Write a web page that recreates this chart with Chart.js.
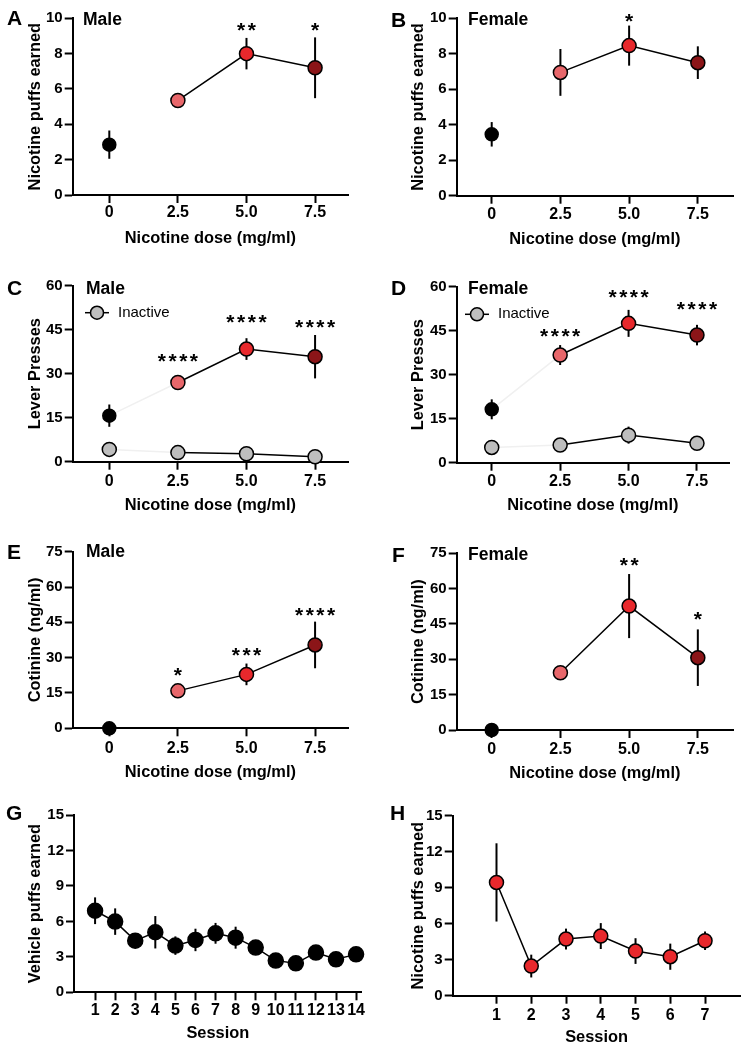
<!DOCTYPE html>
<html><head><meta charset="utf-8">
<script src="https://cdn.jsdelivr.net/npm/chart.js@4.4.1/dist/chart.umd.min.js"></script>
<style>
html,body{margin:0;padding:0;background:#fff;}
#wrap{position:relative;width:749px;height:1050px;overflow:hidden;font-family:"Liberation Sans",Arial,sans-serif;}
canvas{position:absolute;}
.lbl{position:absolute;line-height:1;font-weight:bold;white-space:nowrap;color:#000;font-family:"Liberation Sans",Arial,sans-serif;}
</style></head><body><div id="wrap"></div>
<script>
// ---------- data ----------
const doseX = [0, 2.5, 5, 7.5];
const doseTickLabels = ['0', '2.5', '5.0', '7.5'];
const doseColors = ['#000000', '#E8676B', '#E8282C', '#8B1518'];

const maleNicPuffs = [2.85, 5.35, 8.0, 7.2];
const maleNicPuffsSem = [0.8, 0.35, 0.89, 1.72];
const maleNicPuffsStars = ['', '', '**', '*'];
const maleNicPuffsStarY = [null, null, 9.5, 9.5];

const femaleNicPuffs = [3.46, 6.95, 8.46, 7.5];
const femaleNicPuffsSem = [0.69, 1.32, 1.13, 0.92];
const femaleNicPuffsStars = ['', '', '*', ''];
const femaleNicPuffsStarY = [null, null, 10.0, null];

const maleActive = [15.7, 27.0, 38.4, 35.8];
const maleActiveSem = [3.8, 1.5, 3.7, 7.4];
const maleInactive = [4.2, 3.1, 2.7, 1.7];
const maleInactiveSem = [0.8, 0.6, 0.6, 0.6];
const maleLeverStars = ['', '****', '****', '****'];
const maleLeverStarY = [null, 35.4, 48.6, 46.9];

const femaleActive = [18.2, 36.7, 47.5, 43.5];
const femaleActiveSem = [3.4, 3.4, 4.6, 3.5];
const femaleInactive = [5.2, 6.0, 9.4, 6.6];
const femaleInactiveSem = [0.8, 1.0, 2.9, 1.0];
const femaleLeverStars = ['', '****', '****', '****'];
const femaleLeverStarY = [null, 44.3, 57.5, 53.4];

const maleCotinine = [0, 15.9, 22.9, 35.4];
const maleCotinineSem = [0, 0.8, 4.6, 9.9];
const maleCotinineStars = ['', '*', '***', '****'];
const maleCotinineStarY = [null, 24.0, 32.4, 49.4];

const femaleCotinine = [0, 24.3, 52.6, 30.7];
const femaleCotinineSem = [0, 0.8, 13.6, 12.0];
const femaleCotinineStars = ['', '', '**', '*'];
const femaleCotinineStarY = [null, null, 71.4, 48.4];

const vehicleSessions = [1, 2, 3, 4, 5, 6, 7, 8, 9, 10, 11, 12, 13, 14];
const vehiclePuffs = [6.9, 5.98, 4.37, 5.08, 3.95, 4.43, 4.99, 4.62, 3.78, 2.68, 2.45, 3.36, 2.79, 3.21];
const vehiclePuffsSem = [1.13, 1.12, 0.3, 1.37, 0.78, 0.95, 0.88, 0.93, 0.3, 0.3, 0.3, 0.3, 0.3, 0.3];

const nicotineSessions = [1, 2, 3, 4, 5, 6, 7];
const nicotineSessionPuffs = [9.44, 2.47, 4.72, 4.97, 3.72, 3.25, 4.58];
const nicotineSessionSem = [3.26, 0.95, 0.87, 1.08, 1.07, 1.09, 0.77];

const inactiveColor = '#BEBEBE';
const redColor = '#E8282C';

// ---------- panel layout ----------
const FONT = '"Liberation Sans", Arial, sans-serif';
const doseRadius = [6.5, 7, 7, 7];

const panels = [
  {left:0, top:0, w:374, h:265, area:{l:72.7, r:348, t:18.3, b:195}, xRange:[-1.334, 8.70], yMax:10, yStep:2,
   yTitle:'Nicotine puffs earned', xTitle:'Nicotine dose (mg/ml)', yTitleCX:35.5, xTickCY:213, xTitleCY:238.3,
   xTicks:doseX, xLabels:doseTickLabels,
   series:[{x:doseX, y:maleNicPuffs, sem:maleNicPuffsSem, colors:doseColors, radius:doseRadius, firstSeg:'rgba(0,0,0,0)'}],
   stars:maleNicPuffsStars, starY:maleNicPuffsStarY},
  {left:375, top:0, w:374, h:265, area:{l:456.7, r:733, t:18.3, b:195.7}, xRange:[-1.274, 8.78], yMax:10, yStep:2,
   yTitle:'Nicotine puffs earned', xTitle:'Nicotine dose (mg/ml)', yTitleCX:418.3, xTickCY:215, xTitleCY:239.3,
   xTicks:doseX, xLabels:doseTickLabels,
   series:[{x:doseX, y:femaleNicPuffs, sem:femaleNicPuffsSem, colors:doseColors, radius:doseRadius, firstSeg:'rgba(0,0,0,0)'}],
   stars:femaleNicPuffsStars, starY:femaleNicPuffsStarY},
  {left:0, top:265, w:374, h:265, area:{l:72.7, r:348, t:285.7, b:461.7}, xRange:[-1.334, 8.70], yMax:60, yStep:15,
   yTitle:'Lever Presses', xTitle:'Nicotine dose (mg/ml)', yTitleCX:35.5, xTickCY:481.7, xTitleCY:505,
   xTicks:doseX, xLabels:doseTickLabels,
   series:[{x:doseX, y:maleInactive, sem:maleInactiveSem, colors:inactiveColor, radius:7, firstSeg:'#f0f0f0'},
           {x:doseX, y:maleActive, sem:maleActiveSem, colors:doseColors, radius:doseRadius, firstSeg:'#f0f0f0'}],
   stars:maleLeverStars, starY:maleLeverStarY, legend:{x:97, y:312.7, tx:118}},
  {left:375, top:265, w:374, h:265, area:{l:456.7, r:729, t:286.7, b:462.7}, xRange:[-1.28, 8.67], yMax:60, yStep:15,
   yTitle:'Lever Presses', xTitle:'Nicotine dose (mg/ml)', yTitleCX:418.3, xTickCY:481.7, xTitleCY:505,
   xTicks:doseX, xLabels:doseTickLabels,
   series:[{x:doseX, y:femaleInactive, sem:femaleInactiveSem, colors:inactiveColor, radius:7, firstSeg:'#f0f0f0'},
           {x:doseX, y:femaleActive, sem:femaleActiveSem, colors:doseColors, radius:doseRadius, firstSeg:'#f0f0f0'}],
   stars:femaleLeverStars, starY:femaleLeverStarY, legend:{x:477, y:314.3, tx:498}},
  {left:0, top:530, w:374, h:265, area:{l:72.7, r:348, t:551.7, b:728.3}, xRange:[-1.334, 8.70], yMax:75, yStep:15,
   yTitle:'Cotinine (ng/ml)', xTitle:'Nicotine dose (mg/ml)', yTitleCX:35.5, xTickCY:748.3, xTitleCY:772.3,
   xTicks:doseX, xLabels:doseTickLabels,
   series:[{x:doseX, y:maleCotinine, sem:maleCotinineSem, colors:doseColors, radius:doseRadius, firstSeg:'rgba(0,0,0,0)'}],
   stars:maleCotinineStars, starY:maleCotinineStarY},
  {left:375, top:530, w:374, h:265, area:{l:456.7, r:733, t:553.3, b:730}, xRange:[-1.274, 8.78], yMax:75, yStep:15,
   yTitle:'Cotinine (ng/ml)', xTitle:'Nicotine dose (mg/ml)', yTitleCX:418.7, xTickCY:750, xTitleCY:773.3,
   xTicks:doseX, xLabels:doseTickLabels,
   series:[{x:doseX, y:femaleCotinine, sem:femaleCotinineSem, colors:doseColors, radius:doseRadius, firstSeg:'rgba(0,0,0,0)'}],
   stars:femaleCotinineStars, starY:femaleCotinineStarY},
  {left:0, top:795, w:374, h:255, area:{l:74, r:361.7, t:815, b:992.3}, xRange:[-0.05, 14.28], yMax:15, yStep:3,
   yTitle:'Vehicle puffs earned', xTitle:'Session', yTitleCX:35.5, xTickCY:1010.7, xTitleCY:1033,
   xTicks:vehicleSessions, xLabels:vehicleSessions.map(String),
   series:[{x:vehicleSessions, y:vehiclePuffs, sem:vehiclePuffsSem, colors:'#000000', radius:7.5, firstSeg:null}]},
  {left:375, top:795, w:374, h:255, area:{l:452.7, r:741.7, t:815.7, b:995.7}, xRange:[-0.26, 8.02], yMax:15, yStep:3,
   yTitle:'Nicotine puffs earned', xTitle:'Session', yTitleCX:418.7, xTickCY:1016, xTitleCY:1037.3,
   xTicks:nicotineSessions, xLabels:nicotineSessions.map(String),
   series:[{x:nicotineSessions, y:nicotineSessionPuffs, sem:nicotineSessionSem, colors:redColor, radius:7, firstSeg:null}]}
];

const textLabels = [
  {t:'A', x:7, y:10, s:21}, {t:'Male', x:83, y:13, s:17.5},
  {t:'B', x:391, y:12, s:21}, {t:'Female', x:468, y:13, s:17.5},
  {t:'C', x:7, y:280, s:21}, {t:'Male', x:86, y:282, s:17.5},
  {t:'D', x:391, y:280, s:21}, {t:'Female', x:468, y:282, s:17.5},
  {t:'E', x:7, y:544, s:21}, {t:'Male', x:86, y:545, s:17.5},
  {t:'F', x:392, y:547, s:21}, {t:'Female', x:468, y:548, s:17.5},
  {t:'G', x:6, y:805, s:21},
  {t:'H', x:390, y:805, s:21}
];

// ---------- build ----------
const wrap = document.getElementById('wrap');
const TITLE_SIZE = 16.4, XTICK_SIZE = 16, YTICK_SIZE = 15, TICK_LEN = 8;

function makePlugin(P) {
  return {
    id: 'extras',
    beforeDatasetsDraw(chart) {
      const {ctx, scales: {x, y}} = chart;
      ctx.save();
      ctx.strokeStyle = '#000';
      ctx.lineWidth = 2;
      chart.data.datasets.forEach(ds => {
        ds.data.forEach((p, i) => {
          const s = ds.sem[i];
          if (!s) return;
          const px = x.getPixelForValue(p.x);
          ctx.beginPath();
          ctx.moveTo(px, y.getPixelForValue(p.y - s));
          ctx.lineTo(px, y.getPixelForValue(p.y + s));
          ctx.stroke();
        });
      });
      ctx.restore();
    },
    afterDraw(chart) {
      const {ctx, scales: {x, y}} = chart;
      const ox = P.left, oy = P.top;
      if (P.stars) {
        ctx.save();
        ctx.fillStyle = '#000';
        ctx.font = '700 21px ' + FONT;
        ctx.textAlign = 'center';
        ctx.textBaseline = 'alphabetic';
        const m = ctx.measureText('*');
        const pitch = 10.7;
        P.stars.forEach((st, i) => {
          if (!st) return;
          const cx = x.getPixelForValue(P.xTicks[i]);
          const cy = y.getPixelForValue(P.starY[i]);
          const base = cy + (m.actualBoundingBoxAscent - m.actualBoundingBoxDescent) / 2;
          for (let k = 0; k < st.length; k++) {
            ctx.fillText('*', cx + (k - (st.length - 1) / 2) * pitch, base);
          }
        });
        ctx.restore();
      }
      if (P.legend) {
        const L = P.legend;
        const cx = L.x - ox, cy = L.y - oy;
        ctx.save();
        ctx.strokeStyle = '#000';
        ctx.lineWidth = 1.5;
        ctx.beginPath(); ctx.moveTo(cx - 12, cy); ctx.lineTo(cx + 12, cy); ctx.stroke();
        ctx.beginPath(); ctx.arc(cx, cy, 6.5, 0, Math.PI * 2);
        ctx.fillStyle = inactiveColor; ctx.fill(); ctx.stroke();
        ctx.fillStyle = '#000';
        ctx.font = '400 15px ' + FONT;
        ctx.textAlign = 'left';
        ctx.textBaseline = 'middle';
        ctx.fillText('Inactive', L.tx - ox, cy);
        ctx.restore();
      }
    }
  };
}

panels.forEach(P => {
  const c = document.createElement('canvas');
  c.width = P.w; c.height = P.h;
  c.style.left = P.left + 'px'; c.style.top = P.top + 'px';
  c.style.width = P.w + 'px'; c.style.height = P.h + 'px';
  wrap.appendChild(c);

  const yAxisW = P.area.l - P.left;
  const xAxisH = (P.top + P.h) - P.area.b;
  const half = TITLE_SIZE * 1.2 / 2;
  const yTitlePad = P.yTitleCX - P.left - half;
  const xTitlePad = (P.top + P.h) - P.xTitleCY - half;
  const xTickPad = P.xTickCY - P.area.b - TICK_LEN - XTICK_SIZE * 1.2 / 2;

  const datasets = P.series.map(s => ({
    data: s.x.map((xv, i) => ({x: xv, y: s.y[i]})),
    sem: s.sem,
    showLine: true,
    borderColor: '#000',
    borderWidth: 1.5,
    segment: {borderColor: ctx => (ctx.p0DataIndex === 0 && s.firstSeg) ? s.firstSeg : '#000'},
    pointBackgroundColor: s.colors,
    pointBorderColor: '#000',
    pointBorderWidth: 1.5,
    pointRadius: s.radius,
    clip: false,
    tension: 0,
    fill: false
  }));

  new Chart(c, {
    type: 'line',
    data: {datasets},
    options: {
      responsive: false, animation: false, events: [],
      layout: {padding: {left: 0, top: P.area.t - P.top, right: (P.left + P.w) - P.area.r, bottom: 0}},
      plugins: {legend: {display: false}, tooltip: {enabled: false}},
      scales: {
        x: {
          type: 'linear', min: P.xRange[0], max: P.xRange[1],
          afterBuildTicks: sc => { sc.ticks = P.xTicks.map(v => ({value: v})); },
          afterFit: sc => { sc.height = xAxisH; },
          ticks: {
            callback: v => P.xLabels[P.xTicks.indexOf(v)],
            font: {family: FONT, size: XTICK_SIZE, weight: 'bold'}, color: '#000',
            padding: xTickPad, maxRotation: 0, autoSkip: false
          },
          grid: {drawOnChartArea: false, drawTicks: true, tickLength: TICK_LEN, tickWidth: 2, tickColor: '#000'},
          border: {display: true, color: '#000', width: 2},
          title: {display: true, text: P.xTitle, color: '#000',
                  font: {family: FONT, size: TITLE_SIZE, weight: 'bold'}, padding: {top: 0, bottom: xTitlePad}}
        },
        y: {
          type: 'linear', min: 0, max: P.yMax,
          afterFit: sc => { sc.width = yAxisW; },
          ticks: {stepSize: P.yStep, font: {family: FONT, size: YTICK_SIZE, weight: 'bold'}, color: '#000', padding: 2},
          grid: {drawOnChartArea: false, drawTicks: true, tickLength: TICK_LEN, tickWidth: 2, tickColor: '#000'},
          border: {display: true, color: '#000', width: 2},
          title: {display: true, text: P.yTitle, color: '#000',
                  font: {family: FONT, size: TITLE_SIZE, weight: 'bold'}, padding: {top: yTitlePad, bottom: 0}}
        }
      }
    },
    plugins: [makePlugin(P)]
  });
});

textLabels.forEach(L => {
  const d = document.createElement('div');
  d.className = 'lbl';
  d.textContent = L.t;
  d.style.fontSize = L.s + 'px';
  d.style.left = L.x + 'px';
  d.style.top = (L.y - 0.1305 * L.s) + 'px';
  wrap.appendChild(d);
});
</script>
</body></html>
